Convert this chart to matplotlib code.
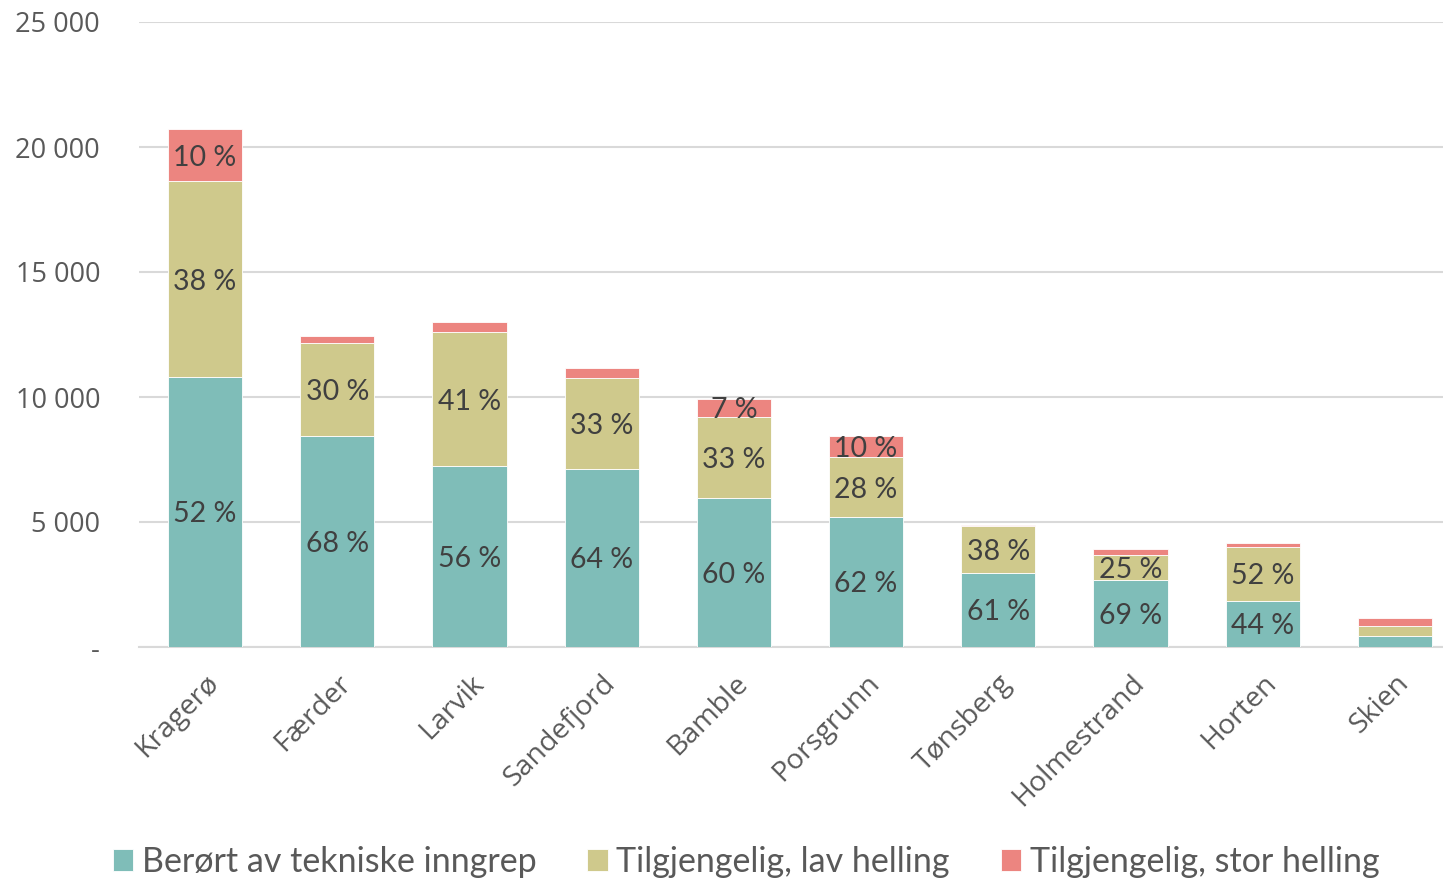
import matplotlib
matplotlib.use("Agg")
import matplotlib.pyplot as plt
import numpy as np

plt.rcParams['font.family'] = ['Open Sans', 'DejaVu Sans']

categories = ["Kragerø", "Færder", "Larvik", "Sandefjord", "Bamble",
              "Porsgrunn", "Tønsberg", "Holmestrand", "Horten", "Skien"]
berort = [10800, 8440, 7240, 7120, 5960, 5200, 2980, 2700, 1840, 440]
lav = [7840, 3720, 5360, 3640, 3240, 2400, 1860, 990, 2160, 400]
stor = [2080, 280, 400, 400, 720, 840, 60, 250, 160, 320]
series_names = ["Berørt av tekniske inngrep", "Tilgjengelig, lav helling",
                "Tilgjengelig, stor helling"]
colors = ["#7FBDB8", "#CFC98C", "#EC8580"]
yticks = [0, 5000, 10000, 15000, 20000, 25000]

fig = plt.figure(figsize=(14.43, 8.81), dpi=100)
ax = fig.add_axes([139/1443, 234/881, 1322/1443, 625/881])

x = np.arange(len(categories))
data = [np.array(berort), np.array(lav), np.array(stor)]
totals = data[0] + data[1] + data[2]
bottom = np.zeros(len(categories))
width = 0.56
for vals, name, col in zip(data, series_names, colors):
    ax.bar(x, vals, width, bottom=bottom, color=col, label=name, zorder=3,
           edgecolor='white', linewidth=0.6)
    for i, v in enumerate(vals):
        if v >= 600:
            pct = int(round(v / totals[i] * 100))
            ax.text(x[i], bottom[i] + v / 2, f"{pct} %", ha='center',
                    va='center_baseline',
                    fontsize=20.5, color='#404040', zorder=4,
                    family=['Lato', 'DejaVu Sans'])
    bottom = bottom + vals

ax.set_xlim(-0.5, len(categories) - 0.5)
ax.set_ylim(0, 25000)
ax.set_yticks(yticks)
ax.set_yticklabels(["-" if v == 0 else f"{v:,}".replace(",", " ") for v in yticks],
                   fontsize=19.5, color='#595959')
ax.yaxis.grid(True, color='#D9D9D9', linewidth=1.5, zorder=0)
ax.set_axisbelow(True)
for s in ['top', 'right', 'left']:
    ax.spines[s].set_visible(False)
ax.spines['bottom'].set_color('#D9D9D9')
ax.spines['bottom'].set_linewidth(1.5)
ax.tick_params(axis='y', length=0, pad=28)
ax.tick_params(axis='x', length=0, pad=16)
ax.set_xticks(x)
ax.set_xticklabels(categories, rotation=45, ha='right', rotation_mode='anchor',
                   fontsize=20.5, color='#595959')

leg = fig.legend(loc='center', bbox_to_anchor=(0.517, 1 - 862/881),
                 ncol=3, frameon=False, handlelength=0.6, handleheight=0.6,
                 handletextpad=0.25, columnspacing=1.5,
                 prop={'family': ['Lato', 'DejaVu Sans'], 'size': 24.5})
for t in leg.get_texts():
    t.set_color('#595959')

fig.savefig("out.png", dpi=100)
